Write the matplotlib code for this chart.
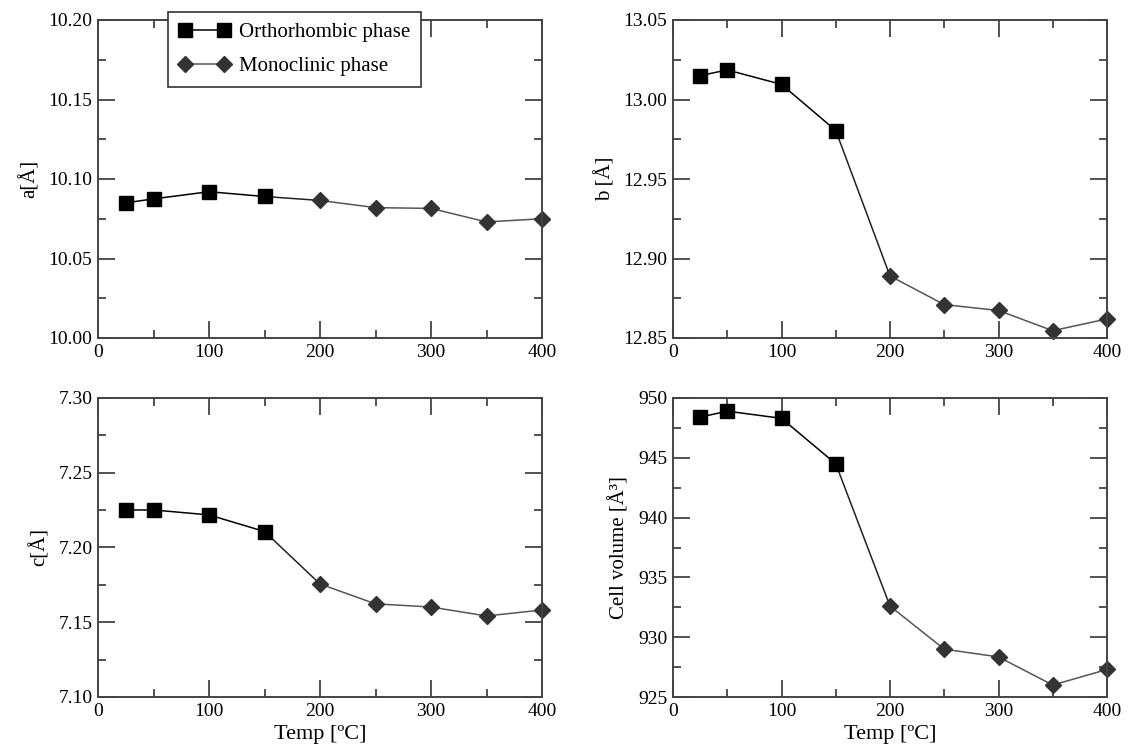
import matplotlib
matplotlib.use("Agg")
import matplotlib.pyplot as plt
from matplotlib.ticker import MultipleLocator
from matplotlib.lines import Line2D

plt.rcParams['font.family'] = ['Liberation Serif', 'DejaVu Serif']

temps_ortho = [25, 50, 100, 150]
temps_mono = [200, 250, 300, 350, 400]

a_ortho = [10.085, 10.0875, 10.092, 10.089]
a_mono = [10.0865, 10.082, 10.0815, 10.073, 10.075]

b_ortho = [13.015, 13.0186, 13.0095, 12.9805]
b_mono = [12.889, 12.871, 12.8673, 12.8546, 12.862]

c_ortho = [7.2251, 7.2251, 7.2218, 7.2107]
c_mono = [7.1756, 7.1623, 7.1602, 7.1542, 7.1582]

v_ortho = [948.4, 948.9, 948.3, 944.5]
v_mono = [932.6, 929.0, 928.35, 926.0, 927.3]

panels = [
    dict(ortho=a_ortho, mono=a_mono, ylim=(10.00, 10.20), major=0.05, minor=0.025,
         fmt="{:.2f}", ylabel="a[Å]", xlabel=None),
    dict(ortho=b_ortho, mono=b_mono, ylim=(12.85, 13.05), major=0.05, minor=0.025,
         fmt="{:.2f}", ylabel="b [Å]", xlabel=None),
    dict(ortho=c_ortho, mono=c_mono, ylim=(7.10, 7.30), major=0.05, minor=0.025,
         fmt="{:.2f}", ylabel="c[Å]", xlabel="Temp [ºC]"),
    dict(ortho=v_ortho, mono=v_mono, ylim=(925, 950), major=5, minor=2.5,
         fmt="{:.0f}", ylabel="Cell volume [Å³]", xlabel="Temp [ºC]"),
]

positions = [
    (98, 20, 542, 338),
    (673, 20, 1107, 338),
    (98, 398, 542, 697),
    (673, 398, 1107, 697),
]

W, H = 1134, 749
fig = plt.figure(figsize=(W / 100, H / 100), dpi=100)

ortho_color = 'black'
mono_color = '#333333'
mono_line = '#555555'
spine_color = '#444444'

for p, (x0, y0, x1, y1) in zip(panels, positions):
    ax = fig.add_axes([x0 / W, 1 - y1 / H, (x1 - x0) / W, (y1 - y0) / H])
    ax.plot([temps_ortho[-1], temps_mono[0]], [p['ortho'][-1], p['mono'][0]],
            color='#222222', lw=1.1, zorder=1)
    ax.plot(temps_mono, p['mono'], color=mono_line, lw=1.1, marker='D',
            markersize=8.5, markerfacecolor=mono_color, markeredgecolor=mono_color,
            zorder=2, clip_on=False)
    ax.plot(temps_ortho, p['ortho'], color=ortho_color, lw=1.1, marker='s',
            markersize=9.5, markerfacecolor=ortho_color, markeredgecolor=ortho_color,
            zorder=3, clip_on=False)
    ax.set_xlim(0, 400)
    ax.set_ylim(*p['ylim'])
    ax.xaxis.set_major_locator(MultipleLocator(100))
    ax.xaxis.set_minor_locator(MultipleLocator(50))
    ax.yaxis.set_major_locator(MultipleLocator(p['major']))
    ax.yaxis.set_minor_locator(MultipleLocator(p['minor']))
    ax.set_yticks(ax.get_yticks())
    ax.set_yticklabels([p['fmt'].format(v) for v in ax.get_yticks()])
    ax.set_ylim(*p['ylim'])
    ax.tick_params(which='both', direction='in', top=True, right=True,
                   labelsize=14, color=spine_color, width=1.3)
    ax.tick_params(which='major', length=12, pad=4)
    ax.tick_params(which='minor', length=6)
    for s in ax.spines.values():
        s.set_color(spine_color)
        s.set_linewidth(1.4)
    ax.set_ylabel(p['ylabel'], fontsize=15, labelpad=6)
    if p['xlabel']:
        ax.set_xlabel(p['xlabel'], fontsize=16, labelpad=4)

handles = [
    Line2D([], [], color=ortho_color, lw=1.1, marker='s', markersize=9.5),
    Line2D([], [], color=mono_line, lw=1.1, marker='D', markersize=8.5,
           markerfacecolor=mono_color, markeredgecolor=mono_color),
]
fig.legend(handles, ["Orthorhombic phase", "Monoclinic phase"],
           loc='upper left', bbox_to_anchor=(168 / W, 1 - 12 / H),
           borderaxespad=0, numpoints=2,
           fontsize=15, frameon=True, fancybox=False, edgecolor='#333333',
           framealpha=1, borderpad=0.5, handlelength=2.5, labelspacing=0.7,
           handletextpad=0.4)
fig.legends[0].get_frame().set_linewidth(1.2)

fig.savefig("out.png", dpi=100)
